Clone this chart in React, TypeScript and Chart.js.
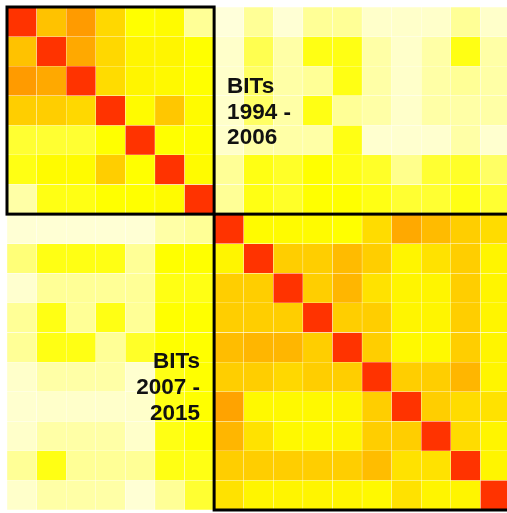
import React, { useEffect, useRef } from "react";
import { Chart, registerables } from "chart.js";

Chart.register(...registerables);

// 17 BITs: first 7 (1994-2006), next 10 (2007-2015)
const bitLabels = ["1","2","3","4","5","6","7","8","9","10","11","12","13","14","15","16","17"];

const row01 = [1, .6, .75, .5, .3, .32, .15, .02, .15, .03, .15, .15, .05, .05, .05, .15, .05];
const row02 = [.6, 1, .7, .5, .35, .35, .3, .05, .22, .12, .28, .28, .12, .05, .12, .28, .12];
const row03 = [.75, .7, 1, .48, .35, .33, .3, .05, .2, .12, .15, .28, .12, .05, .12, .15, .12];
const row04 = [.55, .55, .5, 1, .32, .58, .32, .05, .2, .12, .28, .15, .12, .05, .12, .12, .12];
const row05 = [.25, .25, .25, .3, 1, .3, .3, .05, .12, .12, .12, .28, .04, .04, .04, .12, .04];
const row06 = [.28, .32, .32, .55, .3, 1, .32, .15, .28, .26, .3, .28, .26, .16, .25, .26, .2];
const row07 = [.12, .28, .28, .3, .3, .32, 1, .15, .28, .26, .3, .3, .28, .25, .25, .28, .25];
const row08 = [.03, .03, .03, .03, .03, .12, .15, 1, .32, .32, .32, .3, .48, .7, .63, .55, .48];
const row09 = [.18, .28, .28, .28, .15, .3, .3, .35, 1, .55, .55, .63, .55, .35, .45, .55, .35];
const row10 = [.04, .15, .15, .15, .15, .28, .28, .55, .55, 1, .55, .65, .45, .35, .35, .55, .35];
const row11 = [.15, .28, .15, .28, .15, .3, .3, .55, .55, .55, 1, .55, .55, .35, .35, .55, .35];
const row12 = [.15, .28, .28, .15, .26, .3, .3, .62, .65, .65, .55, 1, .55, .33, .33, .55, .35];
const row13 = [.05, .12, .12, .12, .04, .28, .3, .55, .55, .5, .55, .55, 1, .55, .55, .65, .35];
const row14 = [.04, .05, .05, .05, .05, .28, .3, .72, .33, .33, .33, .35, .55, 1, .55, .48, .45];
const row15 = [.05, .12, .12, .12, .05, .28, .3, .65, .45, .33, .33, .35, .55, .55, 1, .48, .35];
const row16 = [.15, .28, .15, .15, .15, .28, .28, .55, .55, .55, .55, .55, .62, .45, .45, 1, .35];
const row17 = [.05, .12, .12, .12, .03, .15, .25, .45, .35, .35, .35, .35, .33, .45, .35, .35, 1];

const rows = [row01, row02, row03, row04, row05, row06, row07, row08, row09, row10, row11, row12, row13, row14, row15, row16, row17];

const groupSizes = [7, 10];
const topLabel = ["BITs", "1994 -", "2006"];
const bottomLabel = ["BITs", "2007 -", "2015"];

const stops: [number, number[]][] = [
  [0, [255, 255, 228]],
  [0.15, [255, 255, 150]],
  [0.3, [255, 255, 0]],
  [0.45, [255, 226, 0]],
  [0.55, [255, 206, 0]],
  [0.65, [255, 182, 0]],
  [0.75, [255, 155, 0]],
  [0.9, [255, 105, 0]],
  [1, [255, 51, 0]],
];

function colorFor(v: number): string {
  for (let i = 1; i < stops.length; i++) {
    const [v1, c1] = stops[i];
    const [v0, c0] = stops[i - 1];
    if (v <= v1) {
      const t = (v - v0) / (v1 - v0);
      const c = c0.map((a, k) => Math.round(a + (c1[k] - a) * t));
      return `rgb(${c[0]},${c[1]},${c[2]})`;
    }
  }
  return "rgb(255,51,0)";
}

const overlayPlugin = {
  id: "overlay",
  afterDatasetsDraw(chart: any) {
    const { ctx, scales } = chart;
    const xs = scales.x;
    const ys = scales.y;
    const n = bitLabels.length;
    const w = xs.getPixelForValue(1) - xs.getPixelForValue(0);
    const xEdge = (i: number) => xs.getPixelForValue(0) - w / 2 + i * w;
    const yEdge = (i: number) => ys.getPixelForValue(i);
    ctx.save();
    ctx.strokeStyle = "#000";
    ctx.lineWidth = 3;
    const b = groupSizes[0];
    ctx.strokeRect(xEdge(0), yEdge(0), xEdge(b) - xEdge(0), yEdge(b) - yEdge(0));
    ctx.strokeRect(xEdge(b), yEdge(b), xEdge(n) - xEdge(b), yEdge(n) - yEdge(b));

    ctx.fillStyle = "#111";
    ctx.font = "bold 22.5px 'Liberation Sans', Arial, sans-serif";
    ctx.textBaseline = "alphabetic";
    ctx.textAlign = "left";
    const lh = 25.8;
    topLabel.forEach((t, i) => {
      ctx.fillText(t, xEdge(b) + 13, yEdge(3) - 3 + i * lh);
    });
    ctx.textAlign = "right";
    bottomLabel.forEach((t, i) => {
      ctx.fillText(t, xEdge(b) - 14, yEdge(12) + 6 + i * lh);
    });
    ctx.restore();
  },
};

export default function App() {
  const ref = useRef<HTMLCanvasElement>(null);
  useEffect(() => {
    document.body.style.margin = "0";
    document.body.style.overflow = "hidden";
    document.documentElement.style.overflow = "hidden";
    const datasets = rows.map((r, i) => ({
      label: "row" + (i + 1),
      data: r.map(() => 1),
      backgroundColor: r.map((v) => colorFor(v)),
      borderColor: "rgba(255,255,255,0.12)",
      borderWidth: 0.5,
      borderSkipped: false as const,
      barPercentage: 1,
      categoryPercentage: 1,
    }));
    const chart = new Chart(ref.current!, {
      type: "bar",
      data: { labels: bitLabels, datasets },
      options: {
        responsive: false,
        animation: false,
        layout: { padding: { left: 7, top: 7, right: 1, bottom: 3 } },
        plugins: { legend: { display: false }, tooltip: { enabled: false } },
        scales: {
          x: { stacked: true, display: false, grid: { display: false } },
          y: { stacked: true, display: false, min: 0, max: rows.length, reverse: true, grid: { display: false } },
        },
      },
      plugins: [overlayPlugin],
    });
    return () => chart.destroy();
  }, []);
  return (
    <div style={{ width: 511, height: 513, overflow: "hidden", background: "#fff" }}>
      <canvas ref={ref} width={511} height={513} style={{ display: "block" }} />
    </div>
  );
}
